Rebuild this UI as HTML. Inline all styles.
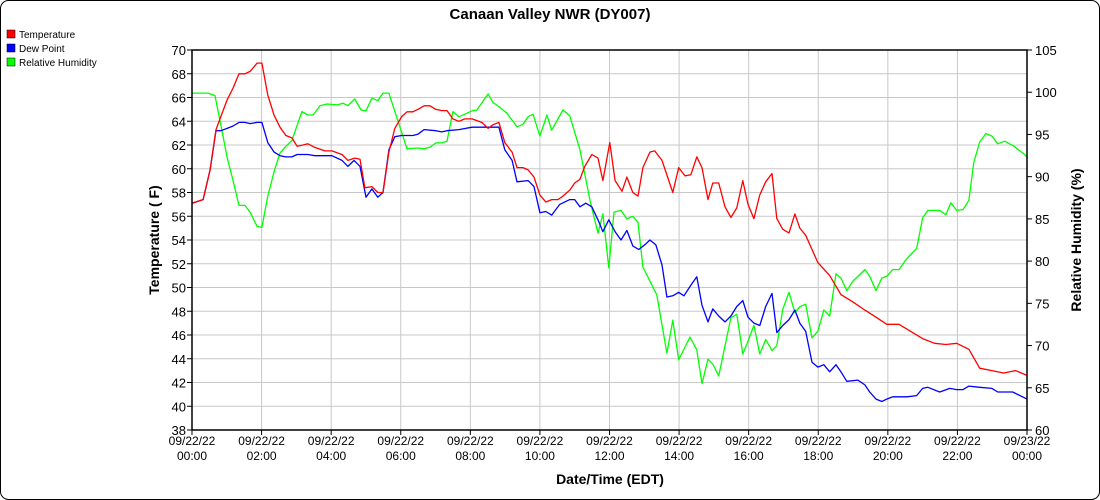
<!DOCTYPE html>
<html><head><meta charset="utf-8">
<style>
html,body{margin:0;padding:0;background:#fff;}
svg{display:block;font-family:"Liberation Sans",Arial,sans-serif;}
</style></head>
<body>
<svg id="chart" width="1100" height="500" viewBox="0 0 1100 500" xmlns="http://www.w3.org/2000/svg">
<rect x="0.5" y="0.5" width="1099" height="499" rx="8" fill="#fff" stroke="#000"/>
<text x="550" y="19" text-anchor="middle" font-size="15" font-weight="bold">Canaan Valley NWR (DY007)</text>
<g>
<g><rect x="7" y="30" width="8" height="8" fill="#f00" stroke="#000" stroke-width="0.5"/><text x="19" y="38" font-size="10">Temperature</text></g>
<g><rect x="7" y="44" width="8" height="8" fill="#00f" stroke="#000" stroke-width="0.5"/><text x="19" y="52" font-size="10">Dew Point</text></g>
<g><rect x="7" y="58" width="8" height="8" fill="#0f0" stroke="#000" stroke-width="0.5"/><text x="19" y="66" font-size="10">Relative Humidity</text></g>
</g>
<g id="grid"></g>
<g id="series"></g>
<g id="axes"></g>
<text transform="translate(159,240) rotate(-90)" text-anchor="middle" font-size="14" font-weight="bold">Temperature ( F)</text>
<text transform="translate(1081,240) rotate(-90)" text-anchor="middle" font-size="14" font-weight="bold">Relative Humidity (%)</text>
<text x="610" y="484" text-anchor="middle" font-size="14" font-weight="bold">Date/Time (EDT)</text>
</svg>
<script>
const xTickLabels = [["09/22/22","00:00"],["09/22/22","02:00"],["09/22/22","04:00"],["09/22/22","06:00"],["09/22/22","08:00"],["09/22/22","10:00"],["09/22/22","12:00"],["09/22/22","14:00"],["09/22/22","16:00"],["09/22/22","18:00"],["09/22/22","20:00"],["09/22/22","22:00"],["09/23/22","00:00"]];
const leftTicks = [38,40,42,44,46,48,50,52,54,56,58,60,62,64,66,68,70];
const rightTicks = [60,65,70,75,80,85,90,95,100,105];
const tempHours = [0,0.32,0.52,0.69,1.01,1.18,1.35,1.52,1.67,1.87,2.01,2.18,2.36,2.53,2.70,2.87,3.02,3.19,3.33,3.53,3.82,4.02,4.31,4.48,4.68,4.83,4.97,5.17,5.34,5.49,5.66,5.83,6.03,6.18,6.35,6.49,6.67,6.84,7.01,7.18,7.33,7.50,7.67,7.84,8.05,8.33,8.51,8.65,8.82,8.99,9.20,9.34,9.51,9.66,9.83,10.0,10.17,10.34,10.52,10.66,10.86,11.0,11.15,11.29,11.49,11.67,11.81,12.01,12.16,12.36,12.5,12.67,12.82,12.96,13.16,13.3,13.51,13.82,13.99,14.17,14.34,14.51,14.66,14.83,14.97,15.14,15.32,15.49,15.66,15.83,15.98,16.15,16.32,16.49,16.67,16.81,16.98,17.16,17.33,17.47,17.64,17.82,17.99,18.33,18.65,18.99,19.34,19.66,19.97,20.32,20.66,21.0,21.34,21.67,21.98,22.33,22.64,22.99,23.33,23.67,24];
const tempValues = [57.1,57.4,59.9,63.3,65.8,66.8,68,68,68.2,68.9,68.9,66.2,64.5,63.5,62.8,62.6,61.9,62,62.1,61.8,61.5,61.5,61.2,60.7,60.9,60.8,58.4,58.5,58,58,61.4,63.4,64.4,64.8,64.8,65,65.3,65.3,65,64.9,64.9,64.2,64,64.2,64.2,63.9,63.4,63.7,63.9,62.2,61.4,60.1,60.1,59.9,59.3,57.8,57.2,57.4,57.4,57.7,58.2,58.8,59.1,60.2,61.2,60.9,59,62.2,59,58.1,59.3,58,57.7,60.1,61.4,61.5,60.7,58,60.1,59.4,59.5,61,60.1,57.4,58.8,58.8,56.8,55.9,56.7,59,57,55.8,57.8,58.9,59.6,55.8,54.9,54.6,56.2,55,54.4,53.2,52.1,51,49.4,48.8,48.1,47.5,46.9,46.9,46.3,45.7,45.3,45.2,45.3,44.8,43.2,43,42.8,43,42.6];
const dewHours = [0,0.32,0.52,0.69,0.83,1.01,1.18,1.35,1.52,1.67,1.87,2.01,2.18,2.36,2.53,2.70,2.87,3.02,3.33,3.53,4.02,4.31,4.48,4.66,4.83,5.00,5.17,5.34,5.49,5.66,5.83,6.03,6.18,6.35,6.49,6.67,7.01,7.18,7.33,7.67,8.05,8.42,8.82,8.99,9.20,9.34,9.66,9.83,10.0,10.17,10.34,10.57,10.86,11.0,11.15,11.32,11.49,11.67,11.81,11.98,12.16,12.33,12.5,12.67,12.84,13.02,13.16,13.33,13.51,13.65,13.82,13.99,14.14,14.34,14.51,14.66,14.83,14.97,15.14,15.32,15.49,15.66,15.83,15.98,16.15,16.32,16.49,16.67,16.81,16.98,17.16,17.33,17.47,17.64,17.82,17.99,18.16,18.33,18.51,18.65,18.82,19.14,19.34,19.48,19.66,19.83,19.97,20.14,20.55,20.83,21.0,21.15,21.49,21.78,21.98,22.16,22.33,22.64,22.99,23.16,23.36,23.59,24];
const dewValues = [57.1,57.4,59.9,63.2,63.2,63.4,63.6,63.9,63.9,63.8,63.9,63.9,62.2,61.4,61.1,61,61,61.2,61.2,61.1,61.1,60.7,60.2,60.7,60.2,57.6,58.3,57.6,58,61.6,62.7,62.8,62.8,62.8,62.9,63.3,63.2,63.1,63.2,63.3,63.5,63.5,63.5,61.6,60.7,58.9,59,58.5,56.3,56.4,56.1,57,57.4,57.4,56.8,57.1,56.8,55.7,54.7,55.7,54.7,54,54.8,53.5,53.2,53.6,54,53.6,51.9,49.2,49.3,49.6,49.3,50.2,50.9,48.5,47.1,48.2,47.6,47.1,47.6,48.4,48.9,47.5,47,46.8,48.4,49.5,46.2,46.8,47.3,48.1,47,46.3,43.7,43.3,43.5,42.9,43.5,42.9,42.1,42.2,41.8,41.2,40.6,40.4,40.6,40.8,40.8,40.9,41.5,41.6,41.2,41.5,41.4,41.4,41.7,41.6,41.5,41.2,41.2,41.2,40.6];
const rhHours = [0,0.46,0.66,0.83,1.01,1.18,1.35,1.52,1.67,1.87,2.01,2.18,2.36,2.53,2.70,2.87,3.16,3.33,3.48,3.68,3.88,4.17,4.34,4.48,4.68,4.86,5.00,5.17,5.34,5.49,5.66,6.18,6.49,6.67,6.84,7.01,7.18,7.33,7.50,7.67,7.84,8.05,8.19,8.51,8.65,8.85,9.05,9.20,9.34,9.51,9.66,9.80,10.0,10.20,10.34,10.66,10.86,11.15,11.44,11.67,11.81,11.98,12.13,12.33,12.5,12.67,12.82,12.96,13.36,13.65,13.82,13.99,14.31,14.51,14.66,14.83,14.97,15.14,15.49,15.66,15.83,15.98,16.15,16.32,16.49,16.67,16.81,16.98,17.16,17.33,17.47,17.64,17.82,17.99,18.16,18.33,18.51,18.65,18.82,18.99,19.34,19.48,19.66,19.83,19.97,20.14,20.32,20.49,20.66,20.83,21.0,21.15,21.49,21.67,21.81,21.98,22.16,22.33,22.47,22.64,22.82,22.99,23.16,23.36,23.59,23.94,24];
const rhValues = [99.9,99.9,99.6,96.1,92.3,89.5,86.6,86.6,85.8,84.1,84,87.7,90.6,92.8,93.6,94.3,97.7,97.3,97.3,98.4,98.6,98.5,98.7,98.4,99.2,97.9,97.8,99.3,99,99.9,99.9,93.3,93.4,93.3,93.5,94,94,94.2,97.7,97.1,97.4,97.8,97.9,99.8,98.8,98.2,97.5,96.7,95.9,96.2,97.1,97.4,94.8,97.3,95.5,97.9,97.2,93.2,87.2,83.3,85.6,79.2,85.8,86,85,85.3,84.6,79.3,76,69.1,73,68.3,71,69.5,65.5,68.4,67.8,66.4,73.3,73.7,69,70.5,72.4,69,70.7,69.4,70,74.3,76.3,73.9,74.6,74.9,70.9,71.7,74.2,73.5,78.5,78,76.5,77.6,79,78.2,76.5,78,78.2,79,79,80,80.8,81.5,85.1,86,86,85.5,86.9,86,86.1,87.2,91.7,94.1,95.1,94.8,93.9,94.2,93.7,92.6,92.3];

const L=192,R=1027,T=50,B=430;
const xS=h=>L+(h/24)*(R-L);
const yL=v=>T+(70-v)/(70-38)*(B-T);
const yR=v=>T+(105-v)/(105-60)*(B-T);
const NS="http://www.w3.org/2000/svg";
function mk(tag,attrs,parent){const e=document.createElementNS(NS,tag);for(const k in attrs)e.setAttribute(k,attrs[k]);parent.appendChild(e);return e;}
const grid=document.getElementById('grid'),axes=document.getElementById('axes'),series=document.getElementById('series');

leftTicks.forEach(v=>{
  const y=yL(v);
  const g=mk('line',{x1:L,x2:R,y1:y,y2:y,stroke:'#c8c8c8','stroke-width':1},grid);
  
  
  const t=mk('line',{x1:L-5,x2:L,y1:y,y2:y,stroke:'#000'},axes);
  
  
  const lb=mk('text',{x:L-6,y:y+5,'text-anchor':'end','font-size':13},axes);
  lb.textContent=v;
  
  
});
rightTicks.forEach(v=>{
  const y=yR(v);
  const t=mk('line',{x1:R,x2:R+5,y1:y,y2:y,stroke:'#000'},axes);
  
  
  const lb=mk('text',{x:R+8,y:y+5,'font-size':13},axes);
  lb.textContent=v;
  
  
});
xTickLabels.forEach((lab,i)=>{
  const x=xS(i*2);
  const g=mk('line',{x1:x,x2:x,y1:T,y2:B,stroke:'#c8c8c8','stroke-width':1},grid);
  
  
  const t=mk('line',{x1:x,x2:x,y1:B,y2:B+5,stroke:'#000'},axes);
  
  
  const lb=mk('text',{x:x,y:B+15,'text-anchor':'middle','font-size':12},axes);
  
  
  const s1=mk('tspan',{x:x,dy:0},lb);s1.textContent=lab[0];
  const s2=mk('tspan',{x:x,dy:15},lb);s2.textContent=lab[1];
});
const frame=mk('rect',{x:L,y:T,width:R-L,height:B-T,fill:'none',stroke:'#000','stroke-width':1.5},axes);



function line(hours,vals,ys,color,name){
  const n=Math.min(hours.length,vals.length);
  let d='';
  for(let i=0;i<n;i++){d+=(i?'L':'M')+xS(hours[i]).toFixed(1)+' '+ys(vals[i]).toFixed(1);}
  const p=mk('path',{d:d,fill:'none',stroke:color,'stroke-width':1.3,'stroke-linejoin':'round'},series);
  
  
}
line(rhHours,rhValues,yR,'#00ff00','relative-humidity-line');
line(dewHours,dewValues,yL,'#0000ff','dew-point-line');
line(tempHours,tempValues,yL,'#ff0000','temperature-line');
</script>
</body></html>
